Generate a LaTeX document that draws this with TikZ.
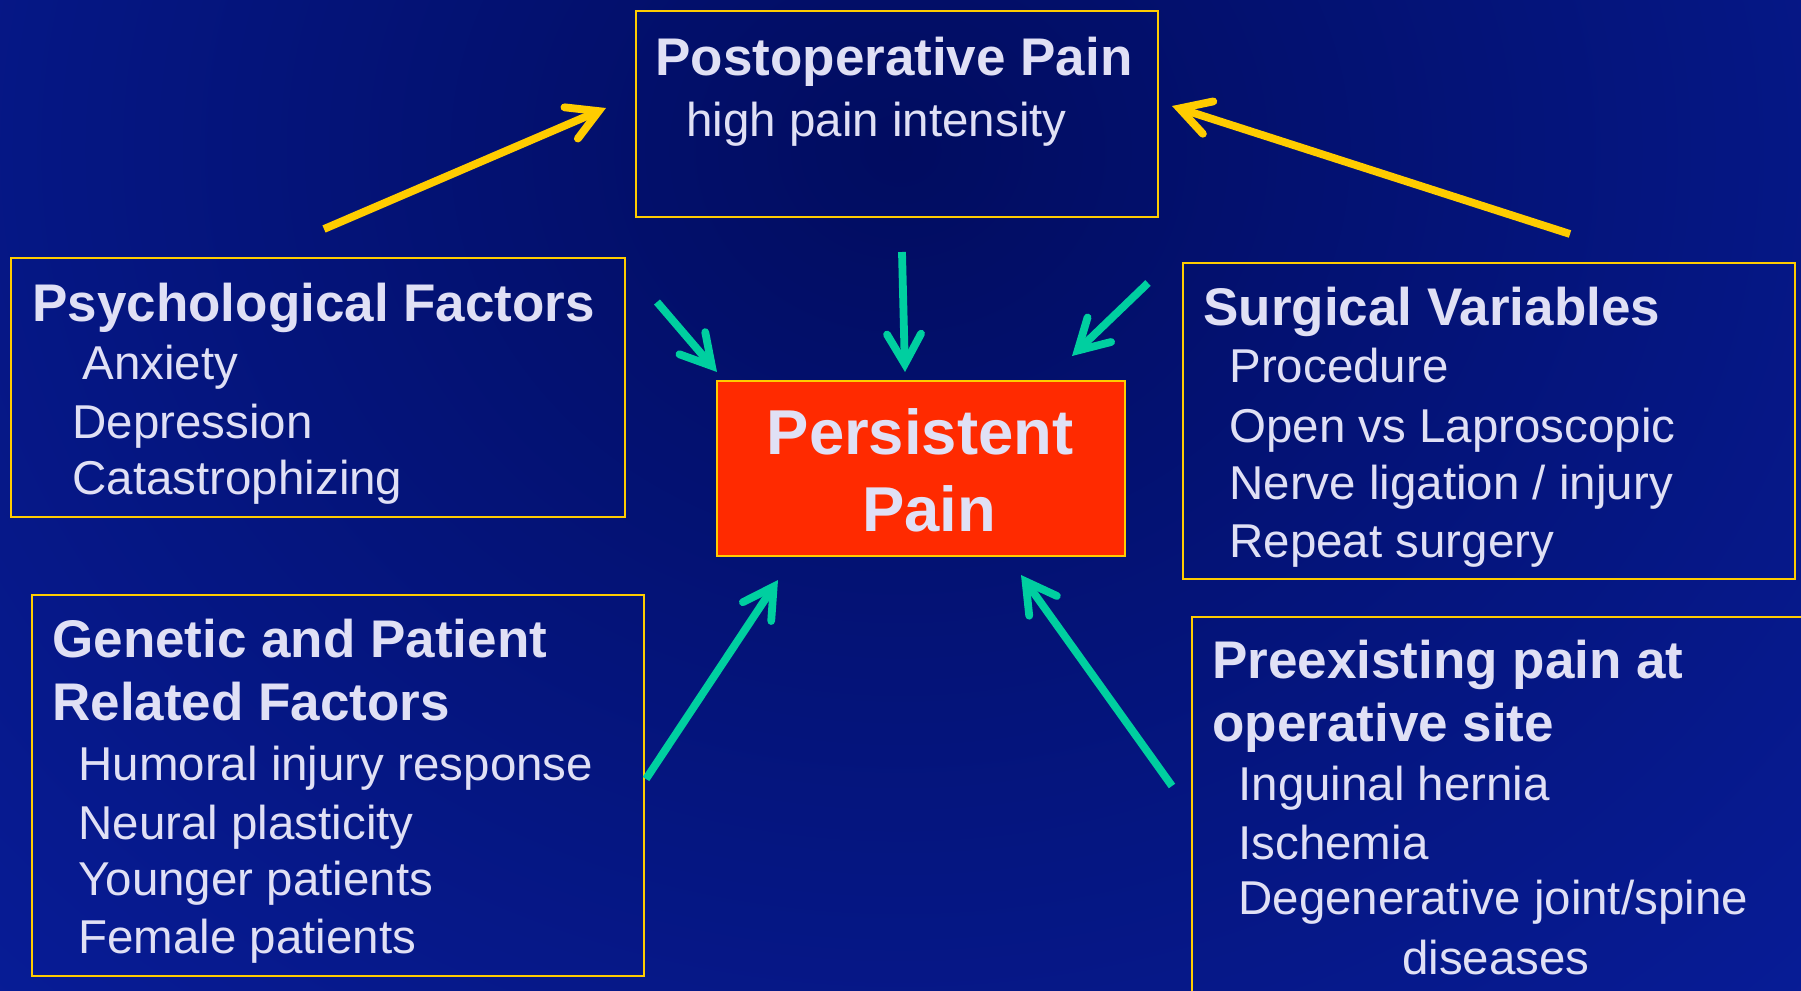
\documentclass[tikz,border=0pt]{standalone}
\usepackage{fontspec}
\setmainfont{Liberation Sans}
\usetikzlibrary{arrows.meta,calc}
\definecolor{txt}{HTML}{E0E0F5}
\definecolor{gold}{HTML}{FFCC00}
\definecolor{tealarrow}{HTML}{00CFA0}
\definecolor{redbox}{HTML}{FF2A00}
\definecolor{bgin}{HTML}{010C60}
\definecolor{bgout}{HTML}{0A22AA}
\begin{document}
\begin{tikzpicture}[x=0.5pt,y=-0.5pt,
  box/.style={draw=gold, line width=1.1pt, inner sep=0pt, anchor=north west},
  ttl/.style={anchor=base west, inner sep=0pt, text=txt, font=\fontsize{26.5}{30}\selectfont\bfseries},
  itm/.style={anchor=base west, inner sep=0pt, text=txt, font=\fontsize{23.75}{28}\selectfont},
  big/.style={anchor=base, inner sep=0pt, text=txt, font=\fontsize{31.7}{36}\selectfont\bfseries},
  tipped/.style={-{Straight Barb[length=15pt,width=17pt,line cap=round,line join=miter]}, line width=3.9pt},
  yarr/.style={tipped, draw=gold},
  tarr/.style={tipped, draw=tealarrow}]
\clip (0,0) rectangle (1801,991);
\shade[inner color=bgin, outer color=bgout] (-900,-1450) rectangle (2700,1750);
% boxes
\node[box, minimum width=261pt, minimum height=103pt] (post) at (635,10) {};
\node[box, fill=redbox, minimum width=204pt, minimum height=87.5pt] (pers) at (716,380) {};
\node[box, minimum width=307pt, minimum height=129.5pt] (psy) at (10,257) {};
\node[box, minimum width=306pt, minimum height=158pt] (surg) at (1182,262) {};
\node[box, minimum width=306pt, minimum height=190.5pt] (gen) at (31,594) {};
\node[box, minimum width=320pt, minimum height=200pt] (pre) at (1191,616) {};
% texts
\node[ttl] (postT) at (655,75) {Postoperative Pain};
\node[itm] (post1) at (686,136) {high pain intensity};
\node[big] (persT1) at (920,454) {Persistent};
\node[big] (persT2) at (929,531) {Pain};
\node[ttl] (psyT) at (32,321) {Psychological Factors};
\node[itm] (psy1) at (82,379) {Anxiety};
\node[itm] (psy2) at (72,438) {Depression};
\node[itm] (psy3) at (72,494) {Catastrophizing};
\node[ttl] (surgT) at (1203,325) {Surgical Variables};
\node[itm] (surg1) at (1229,382) {Procedure};
\node[itm] (surg2) at (1229,442) {Open vs Laproscopic};
\node[itm] (surg3) at (1229,499) {Nerve ligation / injury};
\node[itm] (surg4) at (1229,557) {Repeat surgery};
\node[ttl] (genT1) at (52,657) {Genetic and Patient};
\node[ttl] (genT2) at (52,720) {Related Factors};
\node[itm] (gen1) at (78,780) {Humoral injury response};
\node[itm] (gen2) at (78,839) {Neural plasticity};
\node[itm] (gen3) at (78,895) {Younger patients};
\node[itm] (gen4) at (78,953) {Female patients};
\node[ttl] (preT1) at (1212,678) {Preexisting pain at};
\node[ttl] (preT2) at (1212,741) {operative site};
\node[itm] (pre1) at (1238,800) {Inguinal hernia};
\node[itm] (pre2) at (1238,859) {Ischemia};
\node[itm] (pre3) at (1238,914) {Degenerative joint/spine};
\node[itm, anchor=base] (pre4) at (1496,974) {diseases};
% arrow end points
\coordinate (y1s) at (324,229); \coordinate (y1e) at (606,108);
\coordinate (y2s) at (1570,234); \coordinate (y2e) at (1172,106);
\coordinate (t1s) at (657,302); \coordinate (t1e) at (717,372);
\coordinate (t2s) at (902,252); \coordinate (t2e) at (905,372);
\coordinate (t3s) at (1148,283); \coordinate (t3e) at (1072,356);
\coordinate (t4s) at (646,779); \coordinate (t4e) at (778,580);
\coordinate (t5s) at (1172,786); \coordinate (t5e) at (1021,575);
\draw[yarr] (y1s) -- (y1e);
\draw[yarr] (y2s) -- (y2e);
\draw[tarr] (t1s) -- (t1e);
\draw[tarr] (t2s) -- (t2e);
\draw[tarr] (t3s) -- (t3e);
\draw[tarr] (t4s) -- (t4e);
\draw[tarr] (t5s) -- (t5e);
\end{tikzpicture}
\end{document}
